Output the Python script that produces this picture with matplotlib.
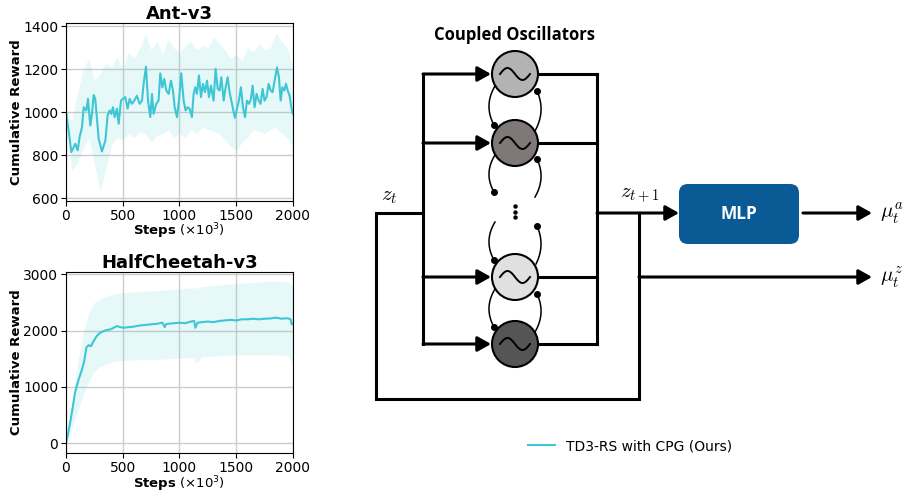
import numpy as np
import matplotlib
matplotlib.use('Agg')
import matplotlib.pyplot as plt
from matplotlib.patches import Circle, FancyBboxPatch
from matplotlib.lines import Line2D

# Ant-v3 mean curve (steps in thousands)
ant_steps = [0, 23, 47, 68, 82, 103, 120, 141, 156, 179, 194, 214, 229, 244, 258, 273, 288, 317, 347, 367,
             385, 400, 414, 429, 449, 464, 485, 502, 523, 543, 561, 581, 602, 625, 649, 670, 684, 705, 723, 743,
             758, 772, 796, 816, 831, 849, 866, 884, 905, 925, 943, 958, 978, 996, 1016, 1037, 1054, 1072, 1090, 1110,
             1125, 1139, 1154, 1172, 1190, 1207, 1225, 1243, 1260, 1278, 1301, 1319, 1337, 1354, 1369, 1390, 1407, 1425, 1442, 1457,
             1472, 1489, 1507, 1524, 1542, 1560, 1578, 1595, 1613, 1630, 1645, 1662, 1680, 1698, 1715, 1733, 1750, 1768, 1786, 1804,
             1821, 1839, 1860, 1877, 1892, 1907, 1924, 1939, 1954, 1971, 1986, 2000]
ant_reward = [1000, 915, 814, 837, 853, 822, 884, 930, 1023, 1008, 1062, 938, 992, 1080, 1062, 969, 876, 817, 868, 985,
              1008, 992, 1023, 977, 1016, 946, 1054, 1062, 1070, 1016, 1062, 1039, 1054, 1077, 1039, 1054, 1132, 1212, 1054, 977,
              1085, 992, 1039, 1054, 1181, 1116, 1155, 1101, 1085, 1147, 1101, 1023, 977, 1054, 1181, 1054, 1008, 1023, 1016, 977,
              1085, 1116, 1085, 1171, 1070, 1132, 1093, 1147, 1070, 1124, 1054, 1202, 1109, 1101, 1163, 1054, 1116, 1163, 1093, 1054,
              1016, 974, 1016, 1054, 1116, 1023, 977, 1054, 1039, 1062, 1124, 1023, 1085, 1054, 1039, 1109, 1054, 1070, 1132, 1101,
              1093, 1147, 1209, 1163, 1054, 1116, 1101, 1132, 1101, 1077, 1023, 992]

# Ant-v3 spread
ant_band_steps = [0, 50, 100, 150, 200, 250, 300, 350, 400, 450, 500, 550, 600, 650, 700, 750, 800, 850, 900, 950,
                  1000, 1050, 1100, 1150, 1200, 1250, 1300, 1350, 1400, 1450, 1500, 1550, 1600, 1650, 1700, 1750, 1800, 1850, 1900, 1950, 2000]
ant_upper = [1010, 960, 1080, 1200, 1250, 1150, 1180, 1230, 1210, 1260, 1200, 1280, 1250, 1300, 1360, 1290, 1330, 1270, 1340, 1300,
             1280, 1310, 1330, 1290, 1310, 1300, 1350, 1320, 1290, 1250, 1270, 1240, 1300, 1280, 1320, 1290, 1300, 1370, 1330, 1300, 1200]
ant_lower = [960, 730, 760, 830, 880, 760, 630, 730, 850, 880, 870, 900, 880, 910, 900, 860, 890, 900, 920, 880,
             900, 880, 920, 900, 930, 920, 910, 900, 870, 840, 820, 860, 880, 920, 910, 900, 920, 930, 900, 880, 840]

# HalfCheetah-v3 mean curve
hc_steps = [0, 20, 40, 60, 80, 100, 120, 140, 160, 180, 200, 220, 240, 270, 300, 330, 360, 390, 420, 450,
            480, 510, 550, 600, 650, 700, 750, 800, 850, 870, 880, 900, 950, 1000, 1050, 1100, 1130, 1140, 1160, 1200,
            1250, 1300, 1350, 1400, 1450, 1500, 1550, 1600, 1650, 1700, 1750, 1800, 1850, 1900, 1950, 1980, 1990, 2000]
hc_reward = [0, 180, 400, 640, 900, 1050, 1180, 1300, 1450, 1700, 1740, 1720, 1800, 1900, 1960, 1990, 2010, 2020, 2050, 2080,
             2060, 2050, 2060, 2070, 2090, 2100, 2110, 2120, 2140, 2060, 2110, 2120, 2130, 2140, 2130, 2160, 2170, 2050, 2140, 2150,
             2160, 2150, 2170, 2180, 2190, 2180, 2200, 2200, 2210, 2200, 2210, 2215, 2230, 2210, 2220, 2200, 2110, 2130]

# HalfCheetah-v3 spread
hc_band_steps = [0, 50, 100, 150, 200, 250, 300, 400, 500, 600, 800, 1000, 1130, 1140, 1200, 1400, 1600, 1800, 1950, 1990, 2000]
hc_upper = [0, 700, 1400, 1950, 2300, 2500, 2560, 2640, 2670, 2690, 2710, 2740, 2760, 2750, 2780, 2820, 2850, 2880, 2870, 2820, 2800]
hc_lower = [0, 250, 550, 850, 1100, 1280, 1360, 1440, 1470, 1480, 1490, 1510, 1520, 1420, 1530, 1560, 1570, 1570, 1560, 1450, 1480]

env_titles = ['Ant-v3', 'HalfCheetah-v3']
legend_label = 'TD3-RS with CPG (Ours)'
line_color = '#3ec6d4'

fig = plt.figure(figsize=(9.04, 4.92), dpi=100)

# ---------------- diagram (drawn in pixel coordinates) ----------------
dg = fig.add_axes([0, 0, 1, 1])
dg.set_xlim(0, 904)
dg.set_ylim(492, 0)
dg.axis('off')

lw = 2.2
cx, r = 515, 23
osc_y = [74, 143, 277, 344]
osc_colors = ['#b3b3b3', '#7e7878', '#e0e0e0', '#555555']

def arrow(x0, y0, x1, y1):
    dg.annotate('', xy=(x1, y1), xytext=(x0, y0),
                arrowprops=dict(arrowstyle='-|>,head_length=0.8,head_width=0.45', lw=lw, color='k',
                                shrinkA=0, shrinkB=0, mutation_scale=10))

def arc(p0, p2, bulge_x, dot_end):
    t = np.linspace(0, 1, 30)
    cxp = 2 * bulge_x - (p0[0] + p2[0]) / 2
    cyp = (p0[1] + p2[1]) / 2
    xs = (1 - t) ** 2 * p0[0] + 2 * (1 - t) * t * cxp + t ** 2 * p2[0]
    ys = (1 - t) ** 2 * p0[1] + 2 * (1 - t) * t * cyp + t ** 2 * p2[1]
    dg.plot(xs, ys, color='k', lw=1.1)
    d = p2 if dot_end else p0
    dg.plot(d[0], d[1], 'o', color='k', ms=4)

# buses
dg.plot([423, 423], [osc_y[0], osc_y[-1]], color='k', lw=lw, solid_capstyle='projecting')
dg.plot([597, 597], [osc_y[0], osc_y[-1]], color='k', lw=lw, solid_capstyle='projecting')
for y, c in zip(osc_y, osc_colors):
    arrow(423, y, cx - r - 1, y)
    dg.plot([cx + r, 597], [y, y], color='k', lw=lw)
    dg.add_patch(Circle((cx, y), r, facecolor=c, edgecolor='k', lw=1.5, zorder=3))
    sx = np.linspace(cx - 15, cx + 15, 60)
    dg.plot(sx, y - 6 * np.sin(2 * np.pi * (sx - cx + 15) / 30), color='k', lw=1.4, zorder=4)

# coupling between oscillators
arc((495, 86), (494, 125), 489, True)
arc((537, 91), (535, 131), 541, False)
arc((495, 155), (494, 192), 489, True)
arc((537, 159), (535, 197), 541, False)
arc((495, 222), (494, 260), 489, True)
arc((537, 226), (536, 264), 541, False)
arc((495, 289), (494, 327), 489, True)
arc((537, 294), (535, 332), 541, False)
for yy in [206, 211.5, 217]:
    dg.plot(cx, yy, 'o', color='k', ms=2.2)

# feedback loop
dg.plot([423, 376, 376, 639, 639], [213, 213, 399, 399, 213], color='k', lw=lw,
        solid_joinstyle='miter')
arrow(597, 213, 679, 213)
arrow(639, 277, 872, 277)
arrow(803, 213, 872, 213)

dg.add_patch(FancyBboxPatch((683, 188), 112, 52, boxstyle='round,pad=4,rounding_size=9',
                            facecolor='#0a5b95', edgecolor='none'))
dg.text(739, 214, 'MLP', color='white', fontsize=12.5, fontweight='bold', family='Open Sans',
        ha='center', va='center')
dg.text(515, 35, 'Coupled Oscillators', fontsize=12, fontweight='bold', family='Open Sans',
        ha='center', va='center')
dg.text(389, 196, r'$z_t$', fontsize=15, math_fontfamily='cm', ha='center', va='center')
dg.text(640, 195, r'$z_{t+1}$', fontsize=15, math_fontfamily='cm', ha='center', va='center')
dg.text(880, 214, r'$\mu_t^a$', fontsize=15, math_fontfamily='cm', ha='left', va='center')
dg.text(880, 278, r'$\mu_t^z$', fontsize=15, math_fontfamily='cm', ha='left', va='center')

# ---------------- learning curves ----------------
ax1 = fig.add_axes([0.073, 0.591, 0.251, 0.362])
ax2 = fig.add_axes([0.073, 0.079, 0.251, 0.368])

ax1.fill_between(ant_band_steps, ant_lower, ant_upper, color=line_color, alpha=0.12, lw=0)
ax1.plot(ant_steps, ant_reward, color=line_color, lw=1.5)
ax1.set_ylim(585, 1415)
ax1.set_yticks([600, 800, 1000, 1200, 1400])

ax2.fill_between(hc_band_steps, hc_lower, hc_upper, color=line_color, alpha=0.12, lw=0)
ax2.plot(hc_steps, hc_reward, color=line_color, lw=1.5)
ax2.set_ylim(-180, 3040)
ax2.set_yticks([0, 1000, 2000, 3000])

for ax, title in zip([ax1, ax2], env_titles):
    ax.set_xlim(0, 2000)
    ax.set_xticks([0, 500, 1000, 1500, 2000])
    ax.grid(True, color='#cccccc', lw=1)
    ax.set_axisbelow(True)
    ax.tick_params(labelsize=10, pad=2)
    ax.set_title(title, fontsize=13, fontweight='bold', pad=3)
    ax.set_ylabel('Cumulative Reward', fontsize=9.5, fontweight='bold')
    ax.set_xlabel(r'$\bf{Steps}$ $(\times10^3)$', fontsize=9.5)
    ax.yaxis.set_label_coords(-0.19, 0.5)
    ax.xaxis.set_label_coords(0.5, -0.115)

fig.legend([Line2D([0], [0], color=line_color, lw=1.5)], [legend_label], loc='center',
           bbox_to_anchor=(0.697, 0.093), frameon=False, fontsize=10)

plt.savefig('out.png', dpi=100)
